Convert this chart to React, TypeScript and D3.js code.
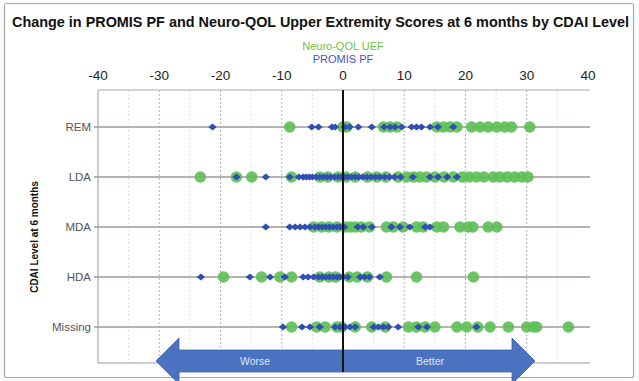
import React from "react";
import * as d3 from "d3";

const categories = ["REM", "LDA", "MDA", "HDA", "Missing"];
const xTicks = [-40, -30, -20, -10, 0, 10, 20, 30, 40];

const promisREM = [-21.3, -5.1, -4.0, -1.8, -1.3, 0.3, 1.1, 2.5, 4.7, 6.7, 7.7, 8.5, 9.6, 11.2, 12.0, 12.8, 14.2, 15.5, 18.0];
const nqolREM = [-8.7, 0.0, 0.6, 6.6, 7.7, 8.8, 15.3, 16.4, 17.5, 18.6, 21.0, 22.4, 23.7, 25.1, 26.4, 27.5, 30.5];

const promisLDA = [-17.4, -12.6, -8.7, -7.2, -6.5, -6.0, -5.5, -5.0, -4.4, -3.8, -3.2, -2.6, -2.0, -1.4, -0.8, -0.3, 0.3, 0.8, 1.4, 2.0, 2.6, 3.2, 3.9, 4.6, 5.3, 6.0, 6.8, 7.6, 8.4, 9.4, 11.4, 14.2, 15.5, 17.0, 18.6];
const nqolLDA = [-23.3, -17.4, -14.9, -8.4, -3.8, -2.5, -0.8, 0.5, 2.0, 4.0, 5.5, 7.0, 9.0, 10.4, 11.5, 12.5, 13.6, 15.0, 16.5, 18.0, 19.5, 20.6, 21.8, 23.0, 24.5, 25.6, 26.8, 28.0, 29.2, 30.2];

const promisMDA = [-12.6, -8.7, -7.8, -7.0, -6.2, -5.4, -4.6, -4.0, -3.4, -2.8, -2.2, -1.6, -1.0, -0.5, 0.2, 2.4, 3.3, 4.7, 7.9, 9.3, 10.9, 13.4, 14.2];
const nqolMDA = [-4.8, -3.5, -2.3, -1.0, 0.4, 1.2, 2.0, 3.0, 4.3, 7.1, 8.2, 9.8, 12.0, 13.1, 15.3, 16.4, 19.1, 20.4, 21.2, 23.7, 25.1];

const promisHDA = [-23.2, -15.2, -11.9, -9.5, -6.5, -5.7, -4.8, -4.0, -3.4, -2.8, -2.2, -1.6, -1.0, -0.5, 0.0, 0.8, 2.8, 3.5, 4.3, 6.0];
const nqolHDA = [-19.5, -13.3, -10.3, -8.4, -3.8, -2.3, -1.2, 1.0, 2.3, 4.0, 7.1, 12.0, 21.3];

const promisMissing = [-9.8, -6.7, -5.4, -3.8, -1.3, -0.5, 0.3, 1.1, 2.0, 5.0, 5.8, 6.6, 7.4, 9.0, 12.3, 13.7, 21.8];
const nqolMissing = [-8.4, -4.3, -2.9, -1.0, -0.2, 2.0, 4.7, 6.9, 10.7, 12.0, 13.4, 15.0, 18.6, 20.2, 22.0, 24.0, 27.0, 30.0, 31.1, 31.6, 36.8];

const promisByCat = [promisREM, promisLDA, promisMDA, promisHDA, promisMissing];
const nqolByCat = [nqolREM, nqolLDA, nqolMDA, nqolHDA, nqolMissing];

const W = 639;
const H = 381;
const FONT = "'Liberation Sans', Arial, sans-serif";
const GREEN = "#5fbf58";
const BLUE = "#2f4fb3";

export default function App() {
  const x = d3.scaleLinear().domain([-40, 40]).range([98, 588]);
  const y = d3.scalePoint<string>().domain(categories).range([127, 327]);
  const top = 90;
  const bottom = 363;
  const minor = d3.range(-35, 40, 10);
  const major = [-30, -20, -10, 10, 20, 30];
  const diamond = (cx: number, cy: number) =>
    `M${cx - 4.2},${cy}L${cx},${cy - 3.6}L${cx + 4.2},${cy}L${cx},${cy + 3.6}Z`;

  const arrowY = 361;
  const bodyH = 11;
  const headH = 23;
  const lt = 156, lb = 179, rb = 512, rt = 535;
  const arrowPath = `M${lt},${arrowY}L${lb},${arrowY - headH}L${lb},${arrowY - bodyH}L${rb},${arrowY - bodyH}L${rb},${arrowY - headH}L${rt},${arrowY}L${rb},${arrowY + headH}L${rb},${arrowY + bodyH}L${lb},${arrowY + bodyH}L${lb},${arrowY + headH}Z`;

  return (
    <svg width={W} height={H} style={{ position: "absolute", left: 0, top: 0, background: "#fff" }} fontFamily={FONT}>
      <rect x={0} y={0} width={W} height={H} fill="#fbfbfb" />
      <rect x={4.5} y={3.5} width={629} height={374} fill="#fff" stroke="#a8a8a8" strokeWidth={1.2} rx={2} />
      <text x={12} y={27} fontSize={14} fontWeight="bold" fill="#111" textLength={617} lengthAdjust="spacingAndGlyphs">
        Change in PROMIS PF and Neuro-QOL Upper Extremity Scores at 6 months by CDAI Level
      </text>
      <text x={x(0)} y={50} fontSize={11} textAnchor="middle" fill="#6cc24f">Neuro-QOL UEF</text>
      <text x={x(0)} y={63} fontSize={11} textAnchor="middle" fill="#4a56b8">PROMIS PF</text>
      {xTicks.map((t) => (
        <text key={t} x={x(t)} y={80} fontSize={13.5} textAnchor="middle" fill="#222">{t}</text>
      ))}
      {minor.map((t) => (
        <line key={"mi" + t} x1={x(t)} x2={x(t)} y1={top} y2={bottom} stroke="#e2e2e2" strokeDasharray="2,2" />
      ))}
      {major.map((t) => (
        <line key={"ma" + t} x1={x(t)} x2={x(t)} y1={top} y2={bottom} stroke="#b5b5b5" strokeDasharray="2,2" />
      ))}
      <line x1={x(-40)} x2={590} y1={top} y2={top} stroke="#aaa" />
      <line x1={x(-40)} x2={590} y1={bottom} y2={bottom} stroke="#999" />
      <line x1={x(-40)} x2={x(-40)} y1={top} y2={bottom} stroke="#999" />
      {categories.map((c) => (
        <g key={c}>
          <line x1={x(-40) - 4} x2={590} y1={y(c)} y2={y(c)} stroke="#a09a96" strokeWidth={1.5} />
          <text x={91} y={(y(c) as number) + 4} fontSize={11.5} textAnchor="end" fill="#555">{c}</text>
        </g>
      ))}
      <text transform={`translate(38,237) rotate(-90)`} fontSize={10} fontWeight="bold" textAnchor="middle" fill="#111">
        CDAI Level at 6 months
      </text>
      {categories.map((c, i) => (
        <g key={"g" + c}>
          {nqolByCat[i].map((v, j) => (
            <circle key={j} cx={x(v)} cy={y(c)} r={5.8} fill={GREEN} fillOpacity={0.92} />
          ))}
        </g>
      ))}
      {categories.map((c, i) => (
        <g key={"b" + c}>
          {promisByCat[i].map((v, j) => (
            <path key={j} d={diamond(x(v), y(c) as number)} fill={BLUE} />
          ))}
        </g>
      ))}
      <path d={arrowPath} fill="#4a72c0" stroke="#3d63ad" strokeWidth={0.8} />
      <line x1={x(0)} x2={x(0)} y1={top} y2={arrowY + bodyH} stroke="#111" strokeWidth={2} />
      <text x={255} y={365} fontSize={10.5} textAnchor="middle" fill="#dfe6f4">Worse</text>
      <text x={430} y={365} fontSize={10.5} textAnchor="middle" fill="#dfe6f4">Better</text>
    </svg>
  );
}
